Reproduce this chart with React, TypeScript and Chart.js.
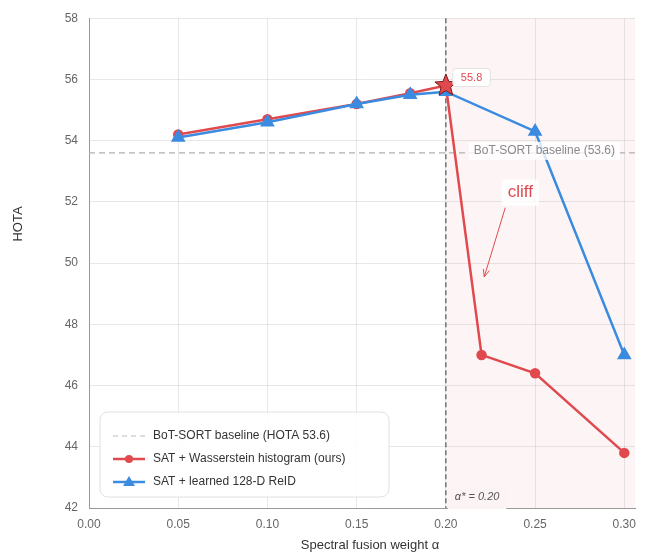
import React, { useEffect, useRef } from "react";
import { Chart, registerables } from "chart.js";
Chart.register(...registerables);

const alphaRed = [0.05, 0.1, 0.15, 0.18, 0.2, 0.22, 0.25, 0.3];
const hotaRed = [54.2, 54.7, 55.2, 55.55, 55.8, 47.0, 46.4, 43.8];
const alphaBlue = [0.05, 0.1, 0.15, 0.18, 0.2, 0.25, 0.3];
const hotaBlue = [54.1, 54.6, 55.2, 55.5, 55.6, 54.3, 47.0];
const xTicks = [0, 0.05, 0.1, 0.15, 0.2, 0.25, 0.3];
const baselineHota = 53.6;
const alphaStar = 0.2;
const bestHota = 55.8;
const cliffText = [0.2417, 52.3];
const cliffTip = [0.2215, 49.55];

const RED = "#e04a4f";
const BLUE = "#3b8be0";
const FONT = "'Liberation Sans', Arial, sans-serif";

function drawStar(ctx: CanvasRenderingContext2D, cx: number, cy: number, ro: number, ri: number) {
  ctx.beginPath();
  for (let i = 0; i < 10; i++) {
    const r = i % 2 === 0 ? ro : ri;
    const a = -Math.PI / 2 + (i * Math.PI) / 5;
    const x = cx + r * Math.cos(a);
    const y = cy + r * Math.sin(a);
    if (i === 0) ctx.moveTo(x, y);
    else ctx.lineTo(x, y);
  }
  ctx.closePath();
}

function roundRect(ctx: CanvasRenderingContext2D, x: number, y: number, w: number, h: number, r: number) {
  ctx.beginPath();
  ctx.moveTo(x + r, y);
  ctx.lineTo(x + w - r, y);
  ctx.arcTo(x + w, y, x + w, y + r, r);
  ctx.lineTo(x + w, y + h - r);
  ctx.arcTo(x + w, y + h, x + w - r, y + h, r);
  ctx.lineTo(x + r, y + h);
  ctx.arcTo(x, y + h, x, y + h - r, r);
  ctx.lineTo(x, y + r);
  ctx.arcTo(x, y, x + r, y, r);
  ctx.closePath();
}

const annotations = {
  id: "annotations",
  beforeDatasetsDraw(chart: any) {
    const { ctx, chartArea: ca, scales } = chart;
    const xs = scales.x;
    const ys = scales.y;
    const x20 = xs.getPixelForValue(alphaStar);
    ctx.save();
    ctx.fillStyle = "rgba(220,60,60,0.05)";
    ctx.fillRect(x20, ca.top, ca.right - x20, ca.bottom - ca.top);
    const yb = ys.getPixelForValue(baselineHota);
    ctx.strokeStyle = "#b0b0b0";
    ctx.lineWidth = 1.2;
    ctx.setLineDash([6, 4]);
    ctx.beginPath();
    ctx.moveTo(ca.left, yb);
    ctx.lineTo(ca.right, yb);
    ctx.stroke();
    ctx.strokeStyle = "#555";
    ctx.lineWidth = 1.2;
    ctx.setLineDash([5, 3]);
    ctx.beginPath();
    ctx.moveTo(x20, ca.top);
    ctx.lineTo(x20, ca.bottom);
    ctx.stroke();
    ctx.restore();
  },
  afterDatasetsDraw(chart: any) {
    const { ctx, chartArea: ca, scales } = chart;
    const xs = scales.x;
    const ys = scales.y;
    ctx.save();
    const sx = xs.getPixelForValue(alphaStar);
    const sy = ys.getPixelForValue(bestHota);
    drawStar(ctx, sx, sy, 11.5, 5);
    ctx.fillStyle = RED;
    ctx.fill();
    ctx.strokeStyle = "#7a1c1c";
    ctx.lineWidth = 1;
    ctx.stroke();
    ctx.font = `11px ${FONT}`;
    const lbl = bestHota.toFixed(1);
    const lw = ctx.measureText(lbl).width;
    roundRect(ctx, sx + 7, sy - 17, lw + 16, 18, 3);
    ctx.fillStyle = "rgba(255,255,255,0.95)";
    ctx.fill();
    ctx.strokeStyle = "#e2e2e2";
    ctx.lineWidth = 1;
    ctx.stroke();
    ctx.fillStyle = RED;
    ctx.textAlign = "left";
    ctx.textBaseline = "middle";
    ctx.fillText(lbl, sx + 15, sy - 8);
    const yb = ys.getPixelForValue(baselineHota);
    ctx.font = `12px ${FONT}`;
    const bt = `BoT-SORT baseline (${baselineHota.toFixed(1)})`;
    const bw = ctx.measureText(bt).width;
    const bx = sx + 28;
    ctx.fillStyle = "rgba(255,255,255,0.8)";
    ctx.fillRect(bx - 5, yb - 11, bw + 10, 18);
    ctx.fillStyle = "#8a8a8a";
    ctx.fillText(bt, bx, yb - 2);
    const cx = xs.getPixelForValue(cliffText[0]);
    const cy = ys.getPixelForValue(cliffText[1]);
    ctx.font = `17px ${FONT}`;
    const cw = ctx.measureText("cliff").width;
    ctx.fillStyle = "rgba(255,255,255,0.85)";
    ctx.fillRect(cx - cw / 2 - 6, cy - 13, cw + 12, 26);
    ctx.fillStyle = RED;
    ctx.textAlign = "center";
    ctx.fillText("cliff", cx, cy);
    const tx = xs.getPixelForValue(cliffTip[0]);
    const ty = ys.getPixelForValue(cliffTip[1]);
    const ax = cx - 15;
    const ay = cy + 15;
    ctx.strokeStyle = RED;
    ctx.lineWidth = 1;
    ctx.beginPath();
    ctx.moveTo(ax, ay);
    ctx.lineTo(tx, ty);
    ctx.stroke();
    const ang = Math.atan2(ty - ay, tx - ax);
    ctx.beginPath();
    ctx.moveTo(tx, ty);
    ctx.lineTo(tx - 8 * Math.cos(ang - 0.4), ty - 8 * Math.sin(ang - 0.4));
    ctx.moveTo(tx, ty);
    ctx.lineTo(tx - 8 * Math.cos(ang + 0.4), ty - 8 * Math.sin(ang + 0.4));
    ctx.stroke();
    ctx.font = `italic 11px ${FONT}`;
    const at = `α* = ${alphaStar.toFixed(2)}`;
    const aw = ctx.measureText(at).width;
    ctx.fillStyle = "#fcf4f4";
    ctx.fillRect(sx + 2, ca.bottom - 20, aw + 14, 21);
    ctx.fillStyle = "#555";
    ctx.textAlign = "left";
    ctx.fillText(at, sx + 9, ca.bottom - 11);
    const lx = 100, ly = 412, lwid = 289, lh = 85;
    roundRect(ctx, lx, ly, lwid, lh, 8);
    ctx.fillStyle = "rgba(255,255,255,0.88)";
    ctx.fill();
    ctx.strokeStyle = "#e0e0e0";
    ctx.lineWidth = 1;
    ctx.stroke();
    const rows = [ly + 24, ly + 47, ly + 70];
    ctx.font = `12px ${FONT}`;
    ctx.strokeStyle = "#bdbdbd";
    ctx.lineWidth = 1.2;
    ctx.setLineDash([5, 4]);
    ctx.beginPath();
    ctx.moveTo(113, rows[0]);
    ctx.lineTo(145, rows[0]);
    ctx.stroke();
    ctx.setLineDash([]);
    ctx.strokeStyle = RED;
    ctx.lineWidth = 2.5;
    ctx.beginPath();
    ctx.moveTo(113, rows[1]);
    ctx.lineTo(145, rows[1]);
    ctx.stroke();
    ctx.beginPath();
    ctx.arc(129, rows[1], 4, 0, Math.PI * 2);
    ctx.fillStyle = RED;
    ctx.fill();
    ctx.strokeStyle = BLUE;
    ctx.beginPath();
    ctx.moveTo(113, rows[2]);
    ctx.lineTo(145, rows[2]);
    ctx.stroke();
    ctx.beginPath();
    ctx.moveTo(129, rows[2] - 6);
    ctx.lineTo(135, rows[2] + 4);
    ctx.lineTo(123, rows[2] + 4);
    ctx.closePath();
    ctx.fillStyle = BLUE;
    ctx.fill();
    ctx.fillStyle = "#333";
    ctx.textAlign = "left";
    ctx.fillText("BoT-SORT baseline (HOTA 53.6)", 153, rows[0]);
    ctx.fillText("SAT + Wasserstein histogram (ours)", 153, rows[1]);
    ctx.fillText("SAT + learned 128-D ReID", 153, rows[2]);
    ctx.font = `13px ${FONT}`;
    ctx.fillStyle = "#333";
    ctx.textAlign = "center";
    ctx.fillText("Spectral fusion weight α", 370, 545);
    ctx.translate(18, 224);
    ctx.rotate(-Math.PI / 2);
    ctx.fillText("HOTA", 0, 0);
    ctx.restore();
  },
};

export default function App() {
  const ref = useRef<HTMLCanvasElement>(null);
  useEffect(() => {
    if (!ref.current) return;
    const chart = new Chart(ref.current, {
      type: "line",
      data: {
        datasets: [
          {
            label: "SAT + Wasserstein histogram (ours)",
            data: alphaRed.map((a, i) => ({ x: a, y: hotaRed[i] })),
            borderColor: RED,
            backgroundColor: RED,
            borderWidth: 2.5,
            pointRadius: alphaRed.map((a) => (a === alphaStar ? 0 : 4)),
            pointStyle: "circle",
            order: 2,
          },
          {
            label: "SAT + learned 128-D ReID",
            data: alphaBlue.map((a, i) => ({ x: a, y: hotaBlue[i] })),
            borderColor: BLUE,
            backgroundColor: BLUE,
            borderWidth: 2.5,
            pointRadius: 6,
            pointStyle: "triangle",
            order: 1,
          },
        ],
      },
      options: {
        responsive: false,
        animation: false,
        layout: { padding: { left: 0, top: 16, right: 15, bottom: 0 } },
        plugins: { legend: { display: false }, tooltip: { enabled: false } },
        scales: {
          x: {
            type: "linear",
            min: 0,
            max: 0.306,
            afterBuildTicks: (s: any) => {
              s.ticks = xTicks.map((v) => ({ value: v }));
            },
            afterFit: (s: any) => {
              s.height = 44;
            },
            ticks: {
              callback: (v: any) => Number(v).toFixed(2),
              color: "#666",
              font: { size: 12, family: FONT },
              padding: 9,
              maxRotation: 0,
            },
            grid: { color: "rgba(0,0,0,0.09)", drawTicks: false },
            border: { color: "#999" },
          },
          y: {
            min: 42,
            max: 58,
            afterFit: (s: any) => {
              s.width = 89;
            },
            ticks: {
              stepSize: 2,
              color: "#666",
              font: { size: 12, family: FONT },
              padding: 11,
            },
            grid: { color: "rgba(0,0,0,0.09)", drawTicks: false },
            border: { color: "#999" },
          },
        },
      },
      plugins: [annotations],
    });
    return () => chart.destroy();
  }, []);
  return (
    <div style={{ position: "absolute", left: 0, top: 0, width: 650, height: 552, background: "#fff" }}>
      <canvas ref={ref} width={650} height={552} style={{ display: "block" }} />
    </div>
  );
}
